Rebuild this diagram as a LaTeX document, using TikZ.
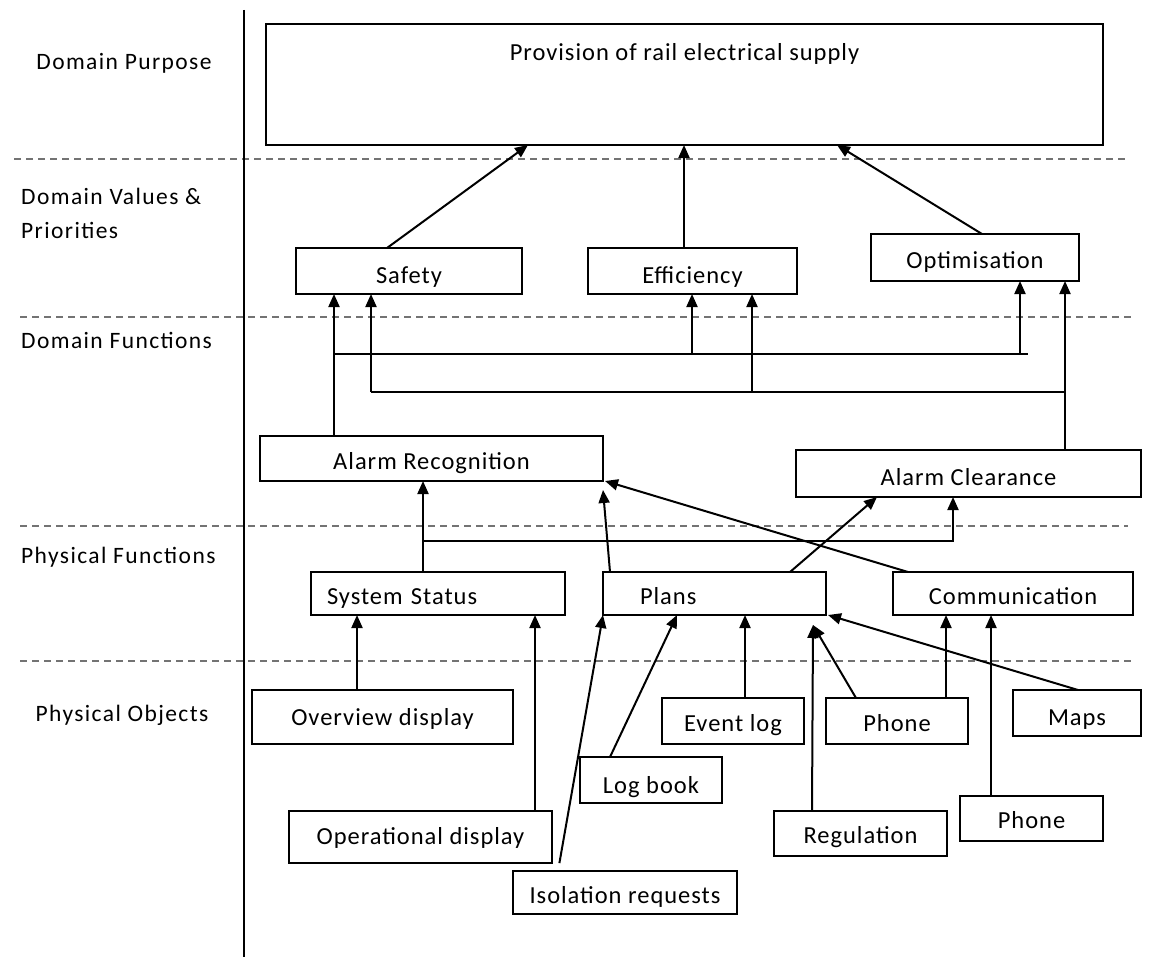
\documentclass[tikz,border=0pt]{standalone}
\usepackage{fontspec}
\setmainfont{Carlito}
\newfontfamily\boxfont[LetterSpace=4]{Carlito}
\newfontfamily\layerfont[LetterSpace=6]{Carlito}
\usetikzlibrary{arrows.meta,calc}
\begin{document}
\begin{tikzpicture}[x=1pt,y=-1pt,
  bx/.style={draw, line width=2pt, anchor=north west, outer sep=0pt,
    inner xsep=0pt, inner ysep=0pt,
    font=\boxfont\fontsize{24.5}{29}\selectfont},
  lbl/.style={font=\layerfont\fontsize{23.5}{34}\selectfont, inner sep=0pt},
  arr/.style={line width=2pt, -{Triangle[length=13pt,width=11pt]}},
  wire/.style={line width=2pt},
  sep/.style={line width=2pt, black!55, dash pattern=on 7pt off 5pt},
]
\useasboundingbox (0,0) rectangle (1150,958);

% layer separators and the label column border
\draw[sep] (14,159) -- (1128,159);
\draw[sep] (20,317) -- (1133,317);
\draw[sep] (20,526) -- (1128,526);
\draw[sep] (20,661) -- (1133,661);
\draw[line width=2pt] (244,10) -- (244,957);

% layer names
\node[lbl] (lpurpose) at (124,63) {Domain Purpose};
\node[lbl, anchor=west, align=left] (lvalues) at (21,213) {Domain Values \&\\Priorities};
\node[lbl, anchor=west] (ldomfun) at (21,340) {Domain Functions};
\node[lbl, anchor=west] (lphysfun) at (21,557) {Physical Functions};
\node[lbl] (lobjects) at (122,715) {Physical Objects};

% purpose
\node[bx, minimum width=837pt, text height=36pt, text depth=85pt] (top) at (266,24) {Provision of rail electrical supply};

% values and priorities
\node[bx, minimum width=226pt, text height=35pt, text depth=11pt] (safety) at (296,248) {Safety};
\node[bx, minimum width=209pt, text height=35pt, text depth=11pt] (eff) at (588,248) {Efficiency};
\node[bx, minimum width=208pt, text height=34pt, text depth=13pt] (opt) at (871,234) {Optimisation};

% domain functions
\node[bx, minimum width=343pt, text height=33pt, text depth=12pt] (ar) at (260,436) {Alarm Recognition};
\node[bx, minimum width=345pt, text height=35pt, text depth=12pt] (ac) at (796,450) {Alarm Clearance};

% physical functions
\node[bx, text width=222pt, align=left, inner xsep=16pt, text height=32pt, text depth=11pt] (ss) at (311,572) {System Status};
\node[bx, text width=149pt, align=left, inner xsep=37pt, text height=32pt, text depth=11pt] (plans) at (603,572) {Plans};
\node[bx, minimum width=240pt, text height=32pt, text depth=11pt] (comm) at (893,572) {Communication};

% physical objects
\node[bx, minimum width=261pt, text height=35pt, text depth=19pt] (ovw) at (252,690) {Overview display};
\node[bx, minimum width=263pt, text height=33pt, text depth=19pt] (opd) at (289,811) {Operational display};
\node[bx, minimum width=224pt, text height=32pt, text depth=11pt] (iso) at (513,871) {Isolation requests};
\node[bx, minimum width=142pt, text height=36pt, text depth=10pt] (logb) at (580,757) {Log book};
\node[bx, minimum width=142pt, text height=33pt, text depth=13pt] (evt) at (662,698) {Event log};
\node[bx, minimum width=142pt, text height=33pt, text depth=13pt] (ph1) at (826,698) {Phone};
\node[bx, minimum width=128pt, text height=35pt, text depth=11pt] (maps) at (1013,690) {Maps};
\node[bx, minimum width=173pt, text height=32pt, text depth=13pt] (reg) at (774,811) {Regulation};
\node[bx, minimum width=143pt, text height=32pt, text depth=13pt] (ph2) at (960,796) {Phone};

% values -> purpose
\draw[arr] ([xshift=91pt]safety.north west) -- ([xshift=262pt]top.south west);
\draw[arr] ([xshift=96pt]eff.north west) -- ([xshift=418pt]top.south west);
\draw[arr] ([xshift=111pt]opt.north west) -- ([xshift=571pt]top.south west);

% alarm recognition -> values
\draw[arr] ([xshift=74pt]ar.north west) -- ([xshift=38pt]safety.south west);
\coordinate (busA) at (334,354);
\coordinate (busAend) at (1028,354);
\draw[wire] (busA) -- (busAend);
\coordinate (effA) at ([xshift=104pt]eff.south west);
\coordinate (optA) at ([xshift=149pt]opt.south west);
\draw[arr] (effA |- busA) -- (effA);
\draw[arr] (optA |- busA) -- (optA);

% alarm clearance -> values
\draw[arr] ([xshift=269pt]ac.north west) -- ([xshift=194pt]opt.south west);
\coordinate (busB) at (371,392);
\coordinate (busBend) at (1065,392);
\draw[wire] (busB) -- (busBend);
\coordinate (safB) at ([xshift=75pt]safety.south west);
\coordinate (effB) at ([xshift=164pt]eff.south west);
\draw[arr] (safB |- busB) -- (safB);
\draw[arr] (effB |- busB) -- (effB);

% physical functions -> domain functions
\draw[arr] ([xshift=112pt]ss.north west) -- ([xshift=163pt]ar.south west);
\coordinate (busC) at (423,541);
\coordinate (acC) at ([xshift=157pt]ac.south west);
\draw[arr] (busC) -| (acC);
\draw[arr] ([xshift=7pt]plans.north west) -- ([yshift=-9pt]ar.south east);
\draw[arr] ([xshift=15pt]comm.north west) -- ([xshift=2pt]ar.south east);
\draw[arr] ([xshift=187pt]plans.north west) -- ([xshift=81pt]ac.south west);

% physical objects -> physical functions
\draw[arr] ([xshift=105pt]ovw.north west) -- ([xshift=46pt]ss.south west);
\draw[arr] ([xshift=246pt]opd.north west) -- ([xshift=224pt]ss.south west);
\draw[arr, shorten <=8pt] ([xshift=45pt]iso.north west) -- (plans.south west);
\draw[arr] ([xshift=30pt]logb.north west) -- ([xshift=74pt]plans.south west);
\draw[arr] ([xshift=83pt]evt.north west) -- ([xshift=142pt]plans.south west);
\coordinate (plansR) at ([xshift=210pt,yshift=-10pt]plans.south west);
\draw[arr] ([xshift=38pt]reg.north west) -- (plansR);
\draw[arr] ([xshift=30pt]ph1.north west) -- (plansR);
\draw[arr] ([xshift=120pt]ph1.north west) -- ([xshift=53pt]comm.south west);
\draw[arr] ([xshift=31pt]ph2.north west) -- ([xshift=98pt]comm.south west);
\draw[arr] ([xshift=65pt]maps.north west) -- ([xshift=2pt]plans.south east);
\end{tikzpicture}
\end{document}
